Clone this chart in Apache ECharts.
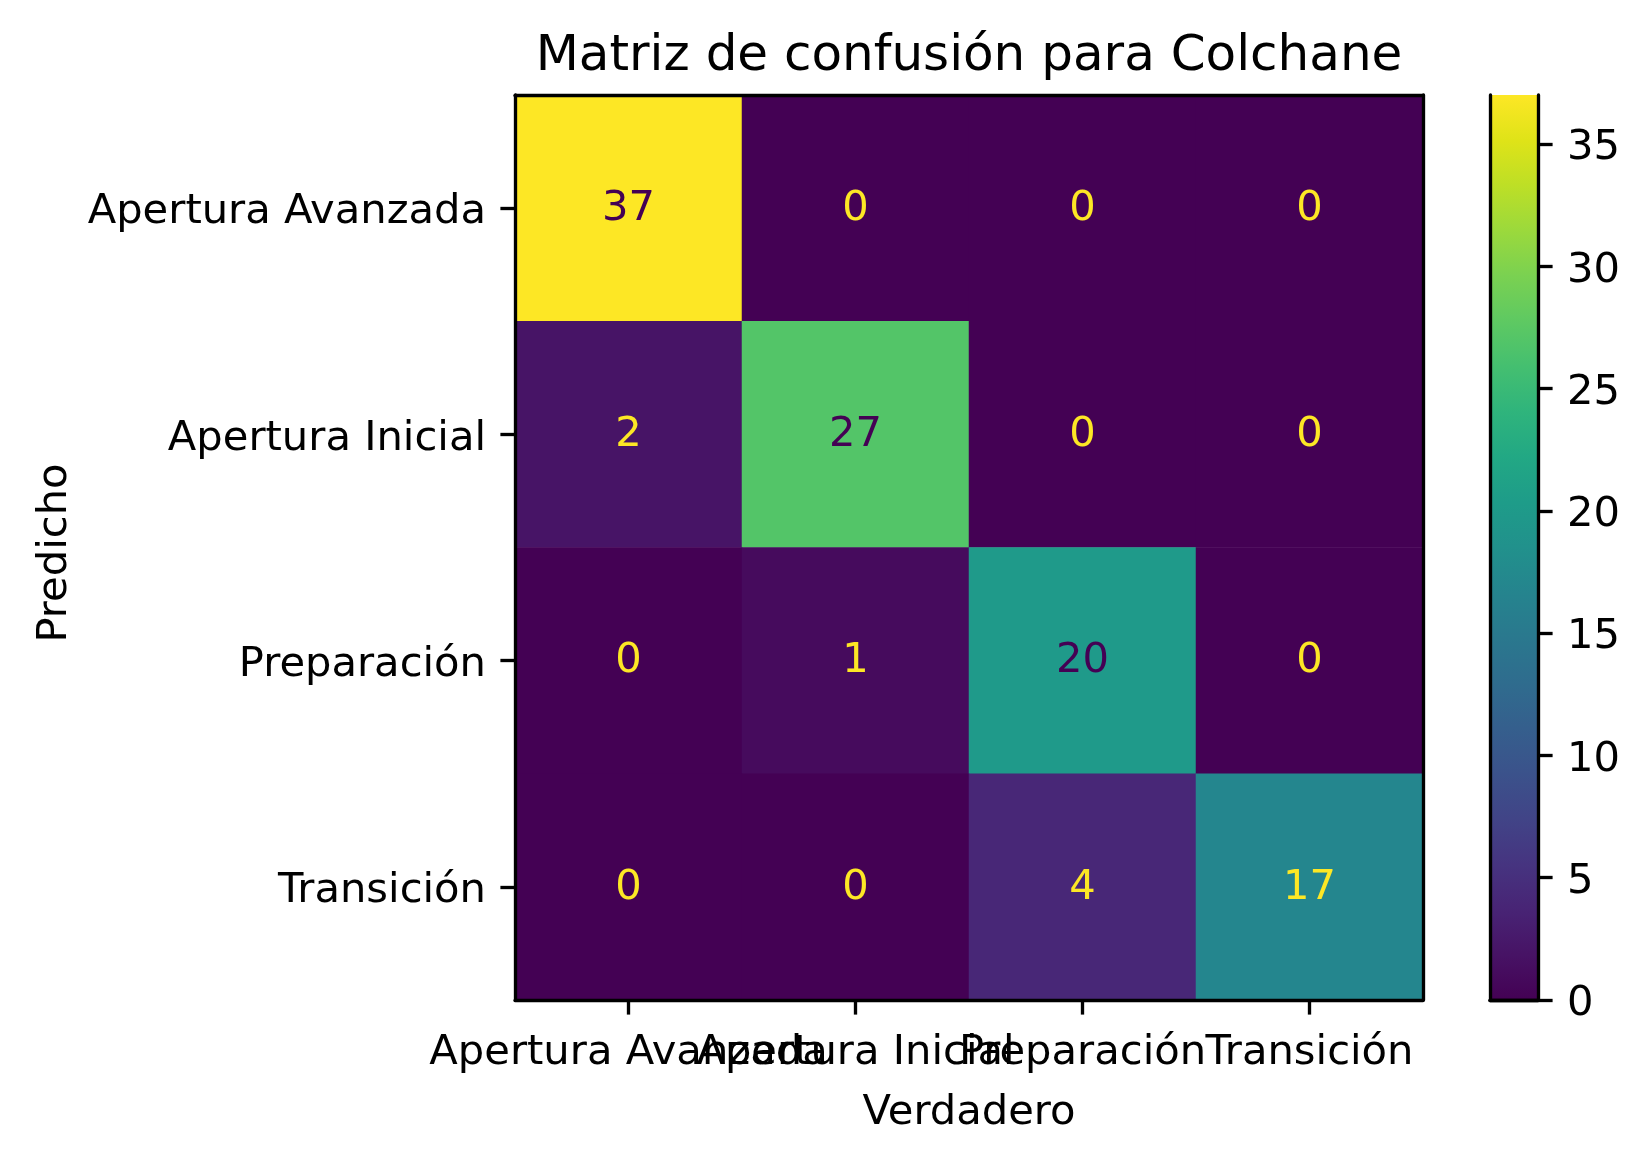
<!DOCTYPE html>
<html><head><meta charset="utf-8">
<script src="https://cdn.jsdelivr.net/npm/echarts@6/dist/echarts.min.js"></script>
<style>html,body{margin:0;padding:0;background:#fff}#c{width:1649px;height:1162px}</style>
</head><body><div id="c"></div>
<script>
// ---- data ----
const categories = ['Apertura Avanzada', 'Apertura Inicial', 'Preparación', 'Transición'];
const rowAperturaAvanzada = [37, 0, 0, 0];
const rowAperturaInicial = [2, 27, 0, 0];
const rowPreparacion = [0, 1, 20, 0];
const rowTransicion = [0, 0, 4, 17];
const colorbarMin = 0;
const colorbarMax = 37;
const colorbarInterval = 5;
const titleText = 'Matriz de confusión para Colchane';
const xLabelText = 'Verdadero';
const yLabelText = 'Predicho';

// ---- style ----
const FONT = 'DejaVu Sans';
const FS = 41.67;
const LW = 3.33;
const TL = 14.6;
const viridis = ['#440154','#471365','#482475','#463480','#414487','#3b528b','#355f8d','#2f6c8e','#2a788e','#25848e','#21918c','#1e9c89','#22a884','#2fb47c','#44bf70','#5ec962','#7ad151','#9bd93c','#bddf26','#dfe318','#fde725'];

const rows = [rowAperturaAvanzada, rowAperturaInicial, rowPreparacion, rowTransicion];
let vmax = -Infinity, vmin = Infinity;
rows.forEach(r => r.forEach(v => { vmax = Math.max(vmax, v); vmin = Math.min(vmin, v); }));
const thresh = (vmax + vmin) / 2;
const heatData = [];
rows.forEach((r, yi) => r.forEach((v, xi) => {
  heatData.push({ value: [xi, yi, v], label: { color: v > thresh ? viridis[0] : viridis[viridis.length - 1] } });
}));

const G = { left: 515, top: 95, width: 908, height: 905 };
const CB = { left: 1490, top: 95, width: 48, height: 905 };

const lineStyle = { color: '#000', width: LW };
const tickStyle = { show: true, length: TL, lineStyle: { color: '#000', width: LW } };
const labelStyle = { color: '#000', fontFamily: FONT, fontSize: FS };
const frameAxis = (extra) => Object.assign({ axisLine: { show: true, lineStyle }, axisTick: { show: false }, axisLabel: { show: false }, splitLine: { show: false }, z: 5 }, extra);

const chart = echarts.init(document.getElementById('c'), null, { renderer: 'canvas' });
chart.setOption({
  backgroundColor: '#fff',
  animation: false,
  grid: [
    Object.assign({ containLabel: false }, G),
    Object.assign({ containLabel: false }, CB)
  ],
  xAxis: [
    { type: 'category', data: categories, gridIndex: 0, position: 'bottom',
      axisLine: { show: true, lineStyle, onZero: false },
      axisTick: Object.assign({ alignWithLabel: true }, tickStyle),
      axisLabel: Object.assign({ interval: 0, margin: 32, hideOverlap: false }, labelStyle),
      splitLine: { show: false }, z: 5 },
    frameAxis({ type: 'category', data: categories, gridIndex: 0, position: 'top' }),
    frameAxis({ type: 'category', data: ['cb'], gridIndex: 1, position: 'bottom' }),
    frameAxis({ type: 'category', data: ['cb'], gridIndex: 1, position: 'top' })
  ],
  yAxis: [
    { type: 'category', data: categories, gridIndex: 0, position: 'left', inverse: true,
      axisLine: { show: true, lineStyle, onZero: false },
      axisTick: Object.assign({ alignWithLabel: true }, tickStyle),
      axisLabel: Object.assign({ interval: 0, margin: 29, verticalAlign: 'top', lineHeight: 9 }, labelStyle),
      splitLine: { show: false }, z: 5 },
    frameAxis({ type: 'category', data: categories, gridIndex: 0, position: 'right', inverse: true }),
    { type: 'value', gridIndex: 1, position: 'right', min: colorbarMin, max: colorbarMax, interval: colorbarInterval,
      axisLine: { show: true, lineStyle },
      axisTick: tickStyle,
      axisLabel: Object.assign({ margin: 29, showMaxLabel: false, verticalAlign: 'top', lineHeight: 9 }, labelStyle),
      splitLine: { show: false }, z: 5 },
    frameAxis({ type: 'value', gridIndex: 1, position: 'left', min: colorbarMin, max: colorbarMax })
  ],
  visualMap: {
    show: false, type: 'continuous', seriesIndex: 0, dimension: 2,
    min: vmin, max: vmax, inRange: { color: viridis }
  },
  series: [
    { type: 'heatmap', xAxisIndex: 0, yAxisIndex: 0, data: heatData, z: 1,
      label: { show: true, fontFamily: FONT, fontSize: FS, offset: [0, 1] },
      itemStyle: { borderWidth: 0 },
      emphasis: { disabled: true } },
    { type: 'bar', xAxisIndex: 2, yAxisIndex: 2, data: [colorbarMax], barWidth: '100%', z: 1,
      itemStyle: { color: new echarts.graphic.LinearGradient(0, 1, 0, 0,
        viridis.map((c, i) => ({ offset: i / (viridis.length - 1), color: c }))) },
      emphasis: { disabled: true } }
  ],
  graphic: [
    { type: 'text', x: 969, y: 57, style: { text: titleText, fill: '#000', font: `50px "${FONT}"`, textAlign: 'center', textVerticalAlign: 'middle' } },
    { type: 'text', x: 969, y: 1113, style: { text: xLabelText, fill: '#000', font: `${FS}px "${FONT}"`, textAlign: 'center', textVerticalAlign: 'middle' } },
    { type: 'text', x: 55, y: 553, rotation: Math.PI / 2, style: { text: yLabelText, fill: '#000', font: `${FS}px "${FONT}"`, textAlign: 'center', textVerticalAlign: 'middle' } }
  ]
});
</script>
</body></html>
